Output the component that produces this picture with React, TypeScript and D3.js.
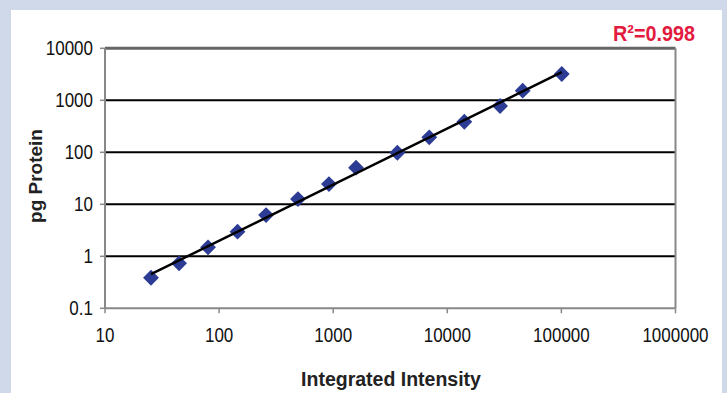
import React from "react";
import * as d3 from "d3";

const intensity = [25.3, 44.6, 80, 145, 258, 491, 918, 1585, 3650, 6950, 14100, 29000, 45800, 100700];
const protein = [0.387, 0.733, 1.49, 2.97, 6.2, 12.6, 24.5, 50.6, 98, 194, 387, 776, 1530, 3206];
const xTicks = [10, 100, 1000, 10000, 100000, 1000000];
const yTicks = [0.1, 1, 10, 100, 1000, 10000];
const gridValues = [1, 10, 100, 1000];
const r2Label = "R²=0.998";

const W = 727, H = 393;
const L = 105, R = 675.5, T = 48.3, B = 308.3;

export default function App() {
  const x = d3.scaleLog().domain([10, 1000000]).range([L, R]);
  const y = d3.scaleLog().domain([0.1, 10000]).range([B, T]);

  // power-law fit in log space
  const lx = intensity.map(Math.log10), ly = protein.map(Math.log10);
  const mx = d3.mean(lx)!, my = d3.mean(ly)!;
  const slope = d3.sum(lx.map((v, i) => (v - mx) * (ly[i] - my))) / d3.sum(lx.map(v => (v - mx) ** 2));
  const icpt = my - slope * mx;
  const fit = (v: number) => Math.pow(10, icpt + slope * Math.log10(v));
  const x0 = d3.min(intensity)!, x1 = d3.max(intensity)!;
  const line = d3.line<number>().x(d => x(d)).y(d => y(fit(d)));

  const font = "'Liberation Sans', Arial, sans-serif";
  const marker = d3.symbol().type(d3.symbolSquare).size(125)()!;

  return (
    <svg width={W} height={H} style={{ position: "absolute", left: 0, top: 0 }}>
      <rect x={0} y={0} width={W} height={H} fill="#cfd9ea" />
      <rect x={11} y={10} width={711} height={H - 10} fill="#ffffff" />
      {gridValues.map(v => (
        <line key={v} x1={L} x2={R} y1={y(v)} y2={y(v)} stroke="#000" strokeWidth={2} />
      ))}
      {/* frame */}
      <line x1={L} x2={R} y1={T} y2={T} stroke="#666" strokeWidth={3} />
      <line x1={R} x2={R} y1={T} y2={B} stroke="#888" strokeWidth={2} />
      <line x1={L} x2={L} y1={T} y2={B} stroke="#888" strokeWidth={2} />
      <line x1={L} x2={R} y1={B} y2={B} stroke="#888" strokeWidth={2} />
      {yTicks.map(v => (
        <g key={v}>
          <line x1={L - 5} x2={L} y1={y(v)} y2={y(v)} stroke="#888" strokeWidth={1.5} />
          <text transform={`translate(93,${y(v) + 7}) scale(0.85,1)`} textAnchor="end" fontFamily={font} fontSize={20} fill="#111">{String(v)}</text>
        </g>
      ))}
      {xTicks.map(v => (
        <g key={v}>
          <line x1={x(v)} x2={x(v)} y1={B} y2={B + 5} stroke="#888" strokeWidth={1.5} />
          <text transform={`translate(${x(v)},341.5) scale(0.85,1)`} textAnchor="middle" fontFamily={font} fontSize={20} fill="#111">{String(v)}</text>
        </g>
      ))}
      {intensity.map((v, i) => (
        <path key={i} d={marker} transform={`translate(${x(v)},${y(protein[i])}) rotate(45)`} fill="#2c3b93" />
      ))}
      <path d={line([x0, x1])!} stroke="#000" strokeWidth={2.5} fill="none" />
      <text transform="translate(695,40.5) scale(0.9,1)" textAnchor="end" fontFamily={font} fontWeight="bold" fontSize={22} fill="#e31b3f">{r2Label}</text>
      <text transform={`translate(42,176) rotate(-90)`} textAnchor="middle" fontFamily={font} fontWeight="bold" fontSize={19} fill="#222">pg Protein</text>
      <text x={391} y={386} textAnchor="middle" fontFamily={font} fontWeight="bold" fontSize={19.5} fill="#222">Integrated Intensity</text>
    </svg>
  );
}
